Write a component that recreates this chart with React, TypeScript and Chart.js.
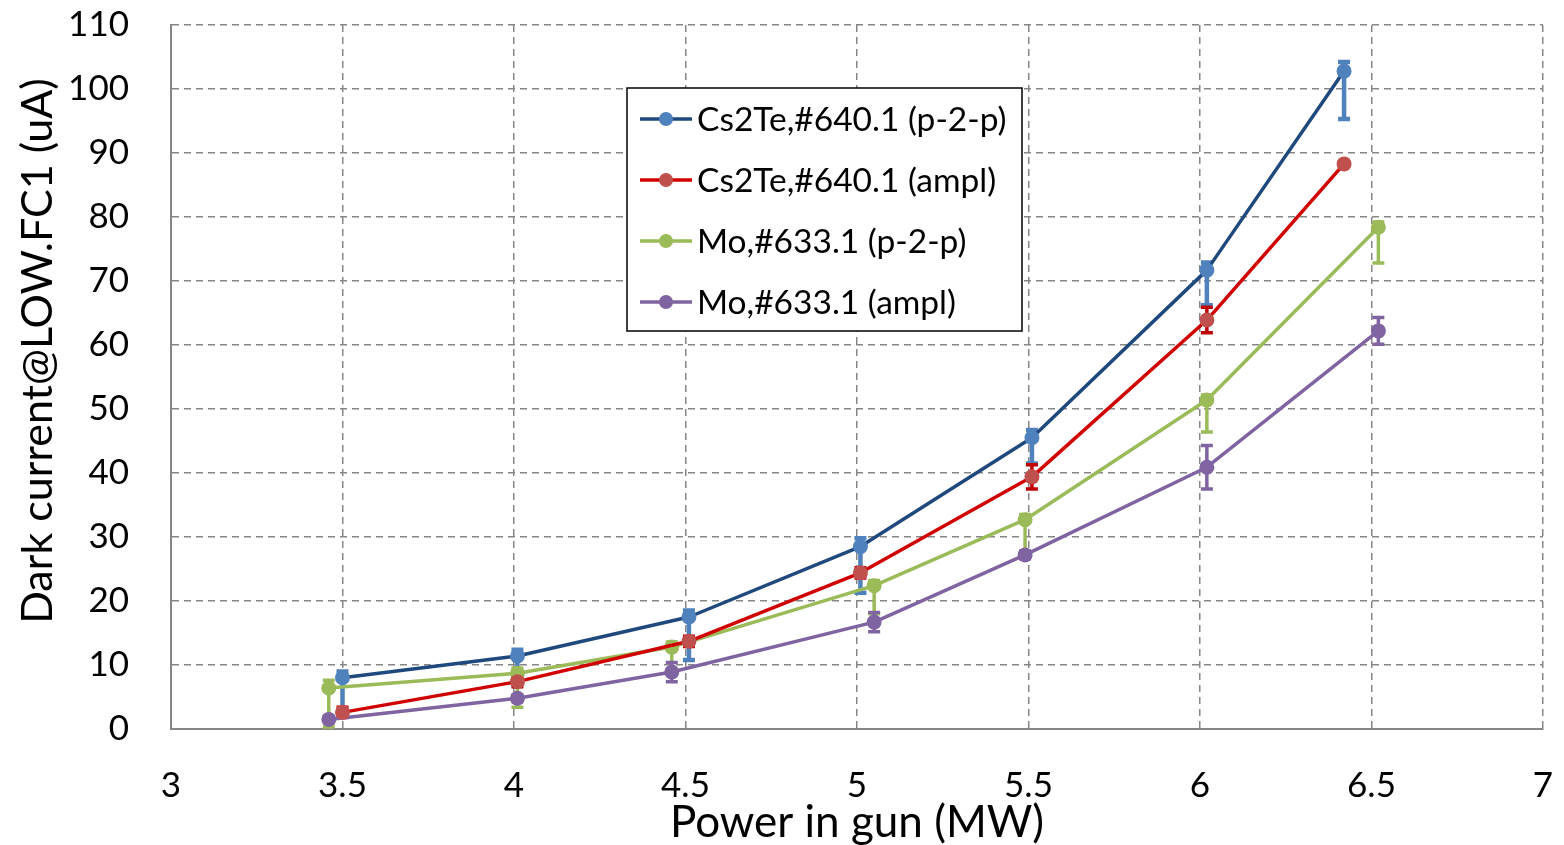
import React, { useEffect, useRef } from 'react';
import { Chart, registerables } from 'chart.js';

Chart.register(...registerables);

// ---------------- data ----------------
const seriesLabels = [
  'Cs2Te,#640.1 (p-2-p)',
  'Cs2Te,#640.1 (ampl)',
  'Mo,#633.1 (p-2-p)',
  'Mo,#633.1 (ampl)',
];
const xCs2Te = [3.5, 4.01, 4.51, 5.01, 5.51, 6.02, 6.42];
const xMo = [3.46, 4.01, 4.46, 5.05, 5.49, 6.02, 6.52];

const csP2P = [8.0, 11.4, 17.5, 28.5, 45.5, 71.7, 102.8];
const csP2PErrPlus = [1.0, 1.0, 1.0, 1.3, 1.2, 1.2, 1.4];
const csP2PErrMinus = [6.0, 3.0, 6.7, 7.2, 4.0, 5.5, 7.5];

const csAmpl = [2.6, 7.4, 13.7, 24.4, 39.4, 63.9, 88.3];
const csAmplErr = [0.8, 0.8, 0.8, 0.8, 1.9, 2.0, 0.3];

const moP2P = [6.4, 8.7, 12.8, 22.4, 32.7, 51.4, 78.4];
const moP2PErrPlus = [1.2, 0.8, 0.8, 0.8, 0.8, 0.8, 0.8];
const moP2PErrMinus = [6.1, 5.3, 4.3, 4.4, 5.2, 5.0, 5.6];

const moAmpl = [1.5, 4.8, 8.9, 16.7, 27.2, 40.9, 62.2];
const moAmplErr = [0.5, 0.5, 1.5, 1.5, 0.6, 3.4, 2.1];

const xTickValues = [3, 3.5, 4, 4.5, 5, 5.5, 6, 6.5, 7];
const yTickValues = [0, 10, 20, 30, 40, 50, 60, 70, 80, 90, 100, 110];

const xTitle = 'Power in gun (MW)';
const yTitle = 'Dark current@LOW.FC1 (uA)';

// ---------------- styles ----------------
const FONT = 'Lato';
const lineColors = ['#1F497D', '#D00000', '#9BBB59', '#8064A2'];
const markerColors = ['#4F81BD', '#C0504D', '#9BBB59', '#8064A2'];
const errColors = ['#4F81BD', '#C00000', '#9BBB59', '#8064A2'];

const pts = (xs: number[], ys: number[]) => xs.map((x, i) => ({ x, y: ys[i] }));

const errorSets = [
  { plus: csP2PErrPlus, minus: csP2PErrMinus, width: 4.5 },
  { plus: csAmplErr, minus: csAmplErr, width: 3.5 },
  { plus: moP2PErrPlus, minus: moP2PErrMinus, width: 3.5 },
  { plus: moAmplErr, minus: moAmplErr, width: 3.5 },
];

const errorBarPlugin = {
  id: 'errorBars',
  beforeDatasetsDraw(chart: any) {
    const { ctx, scales } = chart;
    const xs = scales.x;
    const ys = scales.y;
    chart.data.datasets.forEach((ds: any, i: number) => {
      const eb = errorSets[i];
      ctx.save();
      ctx.strokeStyle = errColors[i];
      ctx.lineWidth = eb.width;
      ctx.lineCap = 'butt';
      ds.data.forEach((p: any, j: number) => {
        const px = xs.getPixelForValue(p.x);
        const top = ys.getPixelForValue(p.y + eb.plus[j]);
        const bot = ys.getPixelForValue(p.y - eb.minus[j]);
        const cap = 6;
        ctx.beginPath();
        ctx.moveTo(px, top);
        ctx.lineTo(px, bot);
        ctx.moveTo(px - cap, top);
        ctx.lineTo(px + cap, top);
        ctx.moveTo(px - cap, bot);
        ctx.lineTo(px + cap, bot);
        ctx.stroke();
      });
      ctx.restore();
    });
  },
};

const overlayPlugin = {
  id: 'overlay',
  afterDraw(chart: any) {
    const { ctx } = chart;
    // y-axis title
    ctx.save();
    ctx.translate(38, 351);
    ctx.rotate(-Math.PI / 2);
    ctx.font = `43px ${FONT}`;
    ctx.fillStyle = '#000';
    ctx.textAlign = 'center';
    ctx.textBaseline = 'middle';
    ctx.fillText(yTitle, 0, 0);
    ctx.restore();

    // legend box
    ctx.save();
    const bx = 627, by = 88, bw = 395, bh = 243;
    ctx.fillStyle = '#fff';
    ctx.fillRect(bx, by, bw, bh);
    ctx.strokeStyle = '#000';
    ctx.lineWidth = 1.5;
    ctx.strokeRect(bx, by, bw, bh);
    ctx.font = `33.5px ${FONT}`;
    ctx.textBaseline = 'middle';
    ctx.textAlign = 'left';
    chart.data.datasets.forEach((ds: any, i: number) => {
      const cy = 119 + 61 * i;
      ctx.strokeStyle = lineColors[i];
      ctx.lineWidth = 3.5;
      ctx.beginPath();
      ctx.moveTo(640, cy);
      ctx.lineTo(692, cy);
      ctx.stroke();
      ctx.fillStyle = markerColors[i];
      ctx.beginPath();
      ctx.arc(666, cy, 7, 0, Math.PI * 2);
      ctx.fill();
      ctx.fillStyle = '#000';
      ctx.fillText(ds.label, 697, cy + 1);
    });
    ctx.restore();
  },
};

const zeroPad = (s: any) => {
  s.paddingTop = 0;
  s.paddingBottom = 0;
  s.paddingLeft = 0;
  s.paddingRight = 0;
};

export default function App() {
  const ref = useRef<HTMLCanvasElement | null>(null);

  useEffect(() => {
    if (!ref.current) return;
    const data = [
      pts(xCs2Te, csP2P),
      pts(xCs2Te, csAmpl),
      pts(xMo, moP2P),
      pts(xMo, moAmpl),
    ];
    const chart = new Chart(ref.current, {
      type: 'line',
      data: {
        datasets: data.map((d, i) => ({
          label: seriesLabels[i],
          data: d,
          borderColor: lineColors[i],
          backgroundColor: markerColors[i],
          borderWidth: 3.5,
          borderJoinStyle: 'round',
          borderCapStyle: 'round',
          pointRadius: 7.5,
          pointBorderWidth: 0,
          pointBackgroundColor: markerColors[i],
          pointBorderColor: markerColors[i],
          tension: 0,
          fill: false,
        })),
      },
      options: {
        responsive: false,
        animation: false,
        devicePixelRatio: 1,
        layout: { padding: { left: 0, top: 25, right: 21, bottom: 0 } },
        plugins: {
          legend: { display: false },
          tooltip: { enabled: false },
        },
        scales: {
          x: {
            type: 'linear',
            min: 3,
            max: 7,
            afterBuildTicks: (s: any) => {
              s.ticks = xTickValues.map((v) => ({ value: v }));
            },
            afterFit: (s: any) => {
              s.height = 116;
              zeroPad(s);
            },
            ticks: {
              font: { family: FONT, size: 35 },
              color: '#000',
              padding: 36,
              maxRotation: 0,
              autoSkip: false,
              callback: (v: any) => String(v),
            },
            grid: { color: '#868686', lineWidth: 1.5, drawTicks: false },
            border: { display: true, color: '#868686', width: 2, dash: [7, 5] },
            title: {
              display: true,
              text: xTitle,
              font: { family: FONT, size: 44 },
              color: '#000',
              padding: { top: 0, bottom: -4 },
            },
          },
          y: {
            type: 'linear',
            min: 0,
            max: 110,
            afterBuildTicks: (s: any) => {
              s.ticks = yTickValues.map((v) => ({ value: v }));
            },
            afterFit: (s: any) => {
              s.width = 171;
              zeroPad(s);
            },
            ticks: {
              font: { family: FONT, size: 35 },
              color: '#000',
              padding: 42,
              autoSkip: false,
              callback: (v: any) => String(v),
            },
            grid: { color: '#868686', lineWidth: 1.5, drawTicks: false },
            border: { display: true, color: '#868686', width: 2, dash: [7, 5] },
          },
        },
      },
      plugins: [errorBarPlugin, overlayPlugin],
    } as any);
    return () => chart.destroy();
  }, []);

  return (
    <div style={{ position: 'fixed', left: 0, top: 0, width: 1564, height: 845, background: '#fff' }}>
      <canvas ref={ref} width={1564} height={845} style={{ width: 1564, height: 845, display: 'block' }} />
    </div>
  );
}
